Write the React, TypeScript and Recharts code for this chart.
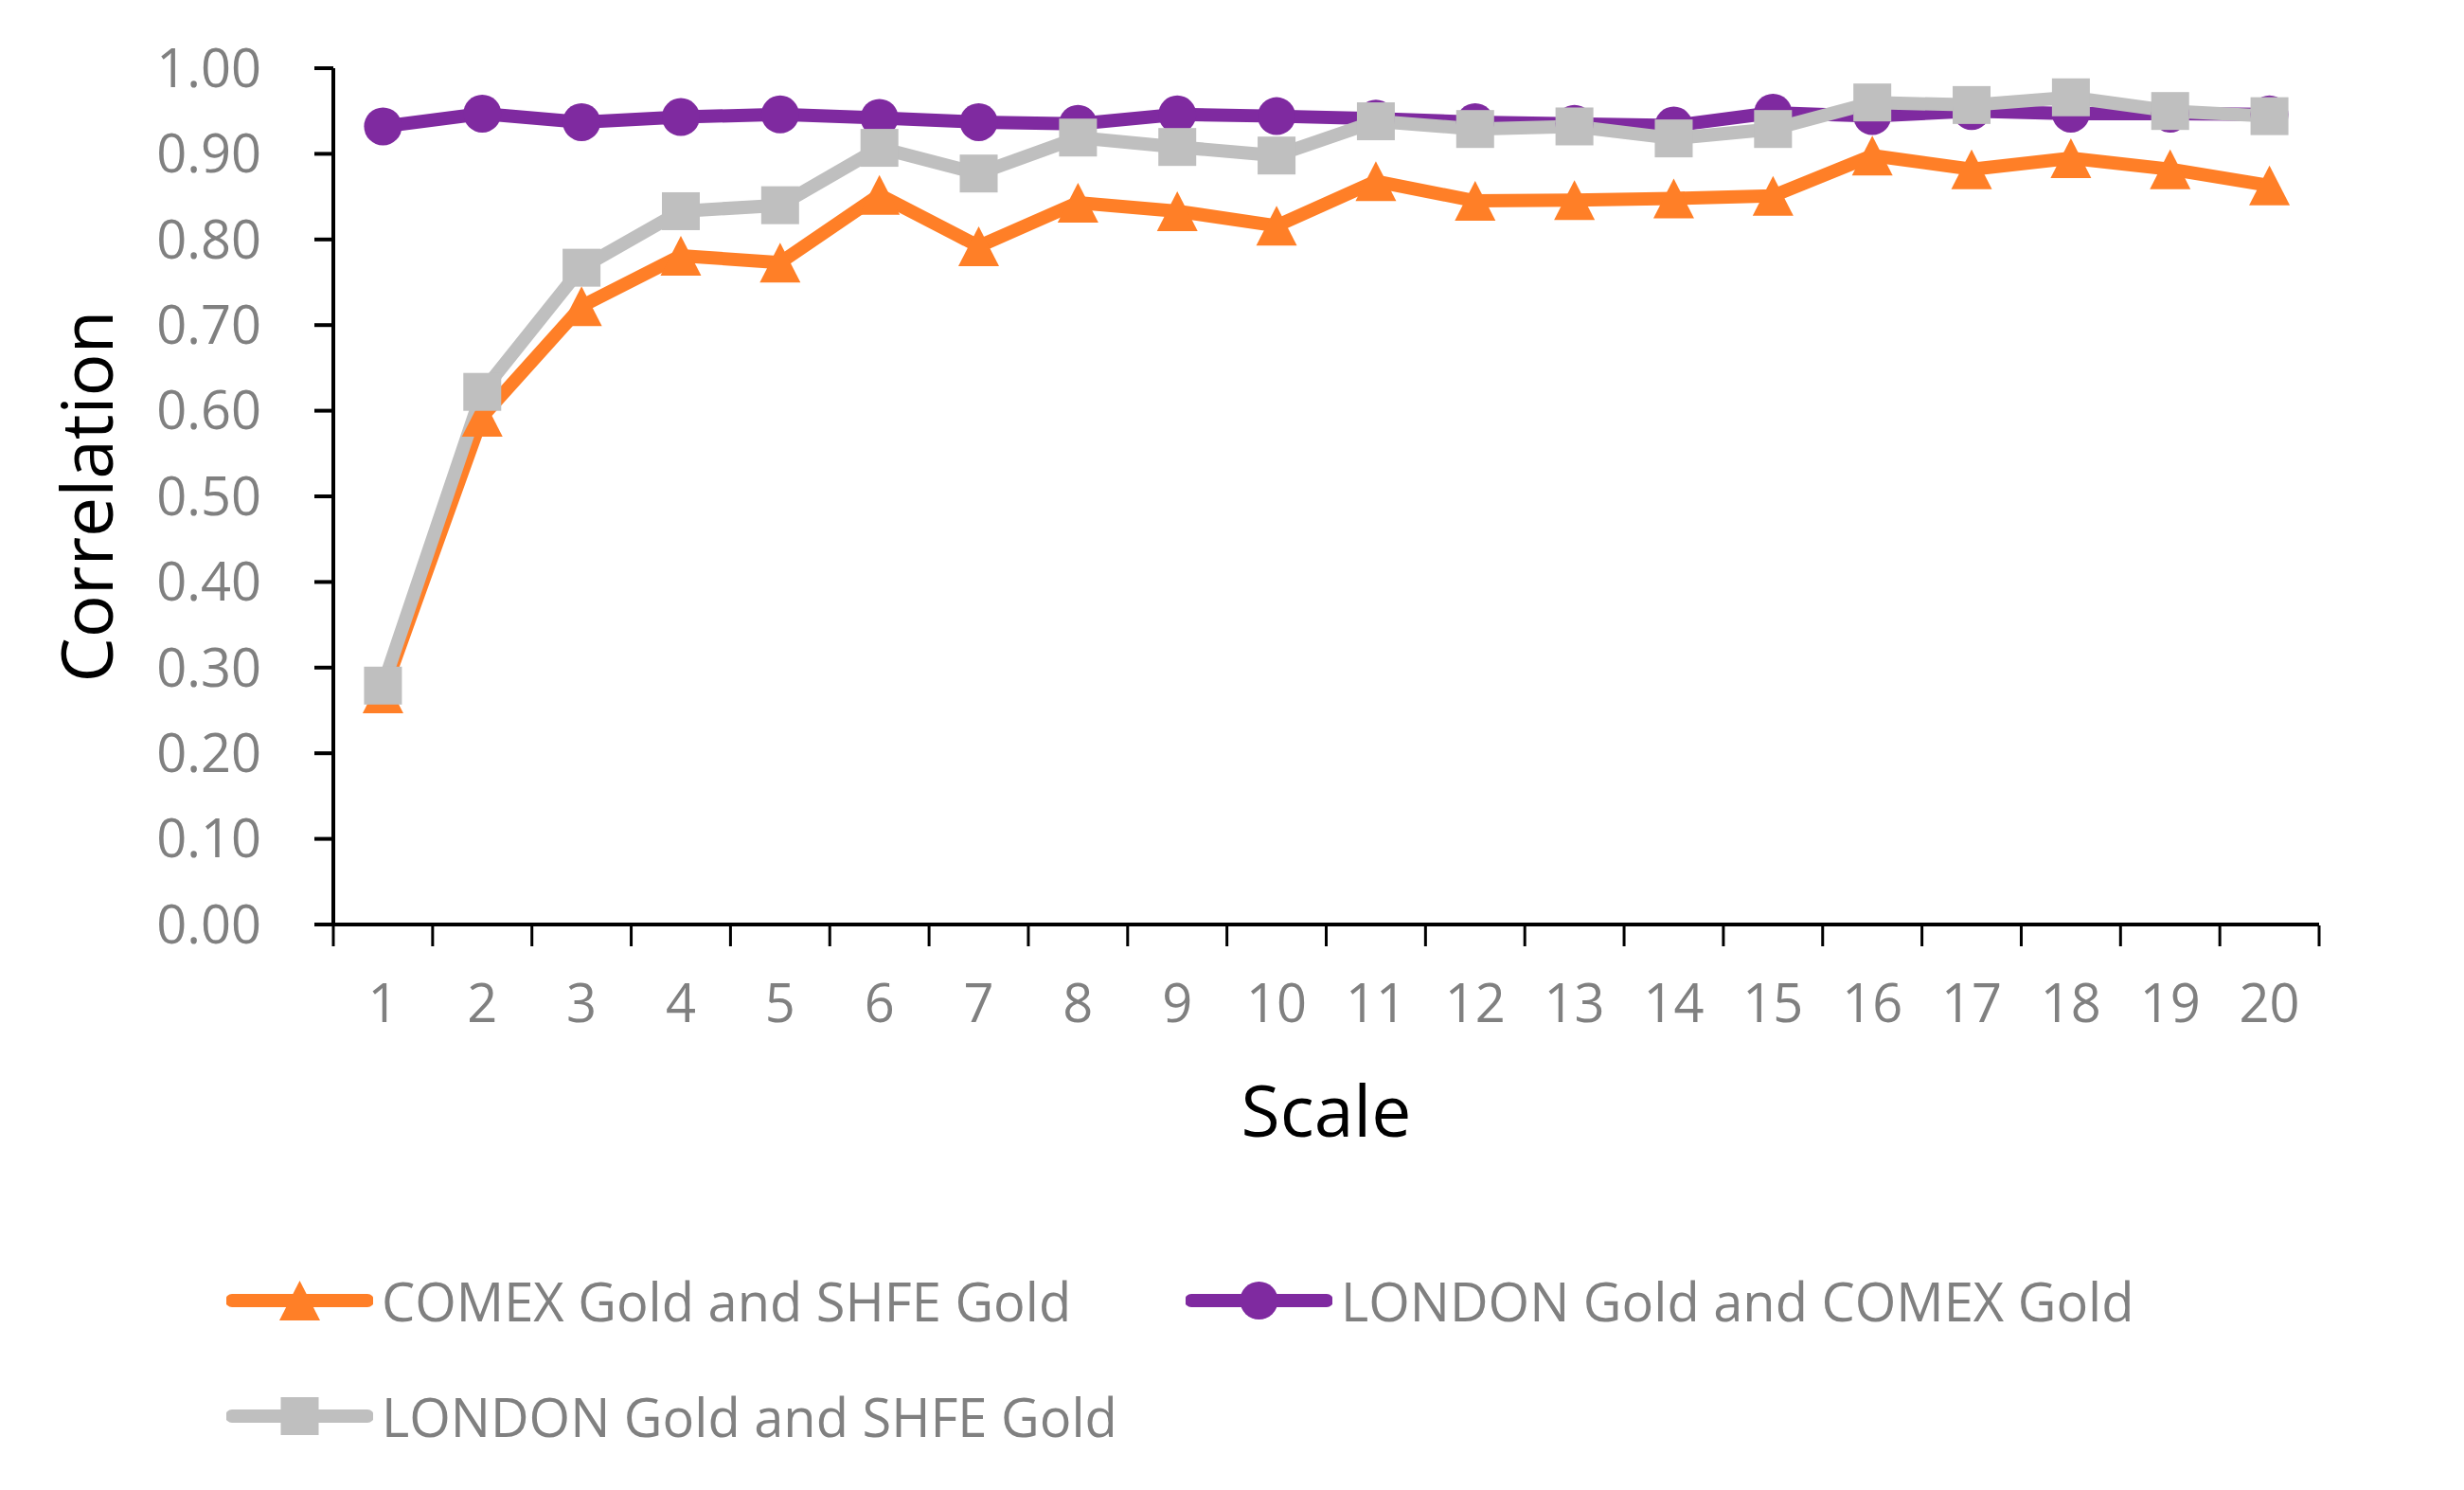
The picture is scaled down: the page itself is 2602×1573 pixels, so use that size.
import React from 'react';
import { LineChart, Line, XAxis, YAxis, Label } from 'recharts';

// scale 1..20 on the x axis
const scales = ['1', '2', '3', '4', '5', '6', '7', '8', '9', '10', '11', '12', '13', '14', '15', '16', '17', '18', '19', '20'];
const yTicks = [0, 0.1, 0.2, 0.3, 0.4, 0.5, 0.6, 0.7, 0.8, 0.9, 1.0];
// boundaries between categories, where Excel puts its tick marks
const edgeTicks = [0.5, 1.5, 2.5, 3.5, 4.5, 5.5, 6.5, 7.5, 8.5, 9.5, 10.5, 11.5, 12.5, 13.5, 14.5, 15.5, 16.5, 17.5, 18.5, 19.5, 20.5];

const comexShfe = [0.27, 0.593, 0.722, 0.781, 0.773, 0.852, 0.792, 0.843, 0.833, 0.816, 0.868, 0.845, 0.846, 0.848, 0.851, 0.898, 0.882, 0.895, 0.882, 0.863];
const londonComex = [0.932, 0.947, 0.937, 0.943, 0.946, 0.942, 0.937, 0.935, 0.946, 0.944, 0.941, 0.937, 0.935, 0.933, 0.948, 0.944, 0.95, 0.947, 0.947, 0.946];
const londonShfe = [0.279, 0.622, 0.767, 0.833, 0.84, 0.907, 0.877, 0.919, 0.908, 0.898, 0.938, 0.929, 0.932, 0.918, 0.929, 0.96, 0.957, 0.966, 0.95, 0.944];

const seriesNames = ['COMEX Gold and SHFE Gold', 'LONDON Gold and COMEX Gold', 'LONDON Gold and SHFE Gold'];

const ORANGE = '#FF7F27';
const PURPLE = '#7F2AA0';
const GRAY = '#BFBFBF';
const TEXT_GRAY = '#808080';
const FONT = "'Open Sans', sans-serif";

const chartData = scales.map((s, i) => ({
  scale: s,
  pos: Number(s),
  comexShfe: comexShfe[i],
  londonComex: londonComex[i],
  londonShfe: londonShfe[i],
}));

function TriangleDot(props: any) {
  const { cx, cy } = props;
  if (cx == null || cy == null) return null;
  return <path d={`M${cx},${cy - 21} L${cx + 21.5},${cy + 21} L${cx - 21.5},${cy + 21} Z`} fill={ORANGE} />;
}

function CircleDot(props: any) {
  const { cx, cy } = props;
  if (cx == null || cy == null) return null;
  return <circle cx={cx} cy={cy} r={20} fill={PURPLE} />;
}

function SquareDot(props: any) {
  const { cx, cy } = props;
  if (cx == null || cy == null) return null;
  return <rect x={cx - 20} y={cy - 20} width={40} height={40} fill={GRAY} />;
}

function EmptyTick() {
  return <g />;
}

function LegendIcon({ kind, color }: { kind: string; color: string }) {
  return (
    <svg width={155} height={46} style={{ flex: 'none' }}>
      <line x1={6} y1={23} x2={149} y2={23} stroke={color} strokeWidth={14} strokeLinecap="round" />
      {kind === 'triangle' && <path d="M77.5,2 L99,44 L56,44 Z" fill={color} />}
      {kind === 'circle' && <circle cx={77.5} cy={23} r={20} fill={color} />}
      {kind === 'square' && <rect x={57.5} y={3} width={40} height={40} fill={color} />}
    </svg>
  );
}

function LegendItem({ left, top, kind, color, name }: any) {
  return (
    <div
      style={{
        position: 'absolute',
        left,
        top: top - 40,
        height: 80,
        display: 'flex',
        alignItems: 'center',
        gap: 9,
      }}
    >
      <LegendIcon kind={kind} color={color} />
      <span style={{ fontFamily: FONT, fontSize: 56, color: TEXT_GRAY, lineHeight: '80px', whiteSpace: 'nowrap' }}>
        {name}
      </span>
    </div>
  );
}

export default function App() {
  return (
    <div style={{ position: 'absolute', left: 0, top: 0, width: 2602, height: 1573, background: '#fff' }}>
      <LineChart
        width={2602}
        height={1573}
        data={chartData}
        margin={{ top: 72, right: 153, left: 0, bottom: 595 }}
      >
        <XAxis
          dataKey="scale"
          scale="band"
          height={1}
          tickLine={false}
          axisLine={{ stroke: '#000', strokeWidth: 4 }}
          tick={{ fill: TEXT_GRAY, fontSize: 56, fontFamily: FONT }}
          tickMargin={57}
          interval={0}
        >
          <Label
            content={(p: any) => {
              const vb = p.viewBox || { x: 352, y: 976, width: 2097, height: 1 };
              return (
                <text
                  x={vb.x + vb.width / 2}
                  y={vb.y + 224}
                  textAnchor="middle"
                  fontFamily={FONT}
                  fontSize={75}
                  fill="#000"
                >
                  Scale
                </text>
              );
            }}
          />
        </XAxis>
        <XAxis
          xAxisId="edges"
          dataKey="pos"
          type="number"
          domain={[0.5, 20.5]}
          ticks={edgeTicks}
          interval={0}
          allowDataOverflow
          height={1}
          tick={EmptyTick}
          axisLine={false}
          tickSize={22}
          tickLine={{ stroke: '#000', strokeWidth: 3 }}
        />
        <YAxis
          width={352}
          domain={[0, 1]}
          ticks={yTicks}
          interval={0}
          tickFormatter={(v: number) => v.toFixed(2)}
          tick={{ fill: TEXT_GRAY, fontSize: 56, fontFamily: FONT }}
          tickSize={20}
          tickMargin={56}
          tickLine={{ stroke: '#000', strokeWidth: 4 }}
          axisLine={{ stroke: '#000', strokeWidth: 4 }}
        >
          <Label
            content={(p: any) => {
              const vb = p.viewBox || { x: 0, y: 72, width: 352, height: 904 };
              const x = vb.x + 119;
              const y = vb.y + vb.height / 2;
              return (
                <text
                  x={x}
                  y={y}
                  transform={`rotate(-90 ${x} ${y})`}
                  textAnchor="middle"
                  fontFamily={FONT}
                  fontSize={75}
                  fill="#000"
                >
                  Correlation
                </text>
              );
            }}
          />
        </YAxis>
        <Line
          dataKey="comexShfe"
          name={seriesNames[0]}
          type="linear"
          stroke={ORANGE}
          strokeWidth={14}
          strokeLinejoin="round"
          dot={(p: any) => <TriangleDot key={`o-${p.index}`} {...p} />}
          activeDot={false}
          isAnimationActive={false}
        />
        <Line
          dataKey="londonComex"
          name={seriesNames[1]}
          type="linear"
          stroke={PURPLE}
          strokeWidth={14}
          strokeLinejoin="round"
          dot={(p: any) => <CircleDot key={`p-${p.index}`} {...p} />}
          activeDot={false}
          isAnimationActive={false}
        />
        <Line
          dataKey="londonShfe"
          name={seriesNames[2]}
          type="linear"
          stroke={GRAY}
          strokeWidth={14}
          strokeLinejoin="round"
          dot={(p: any) => <SquareDot key={`g-${p.index}`} {...p} />}
          activeDot={false}
          isAnimationActive={false}
        />
      </LineChart>
      <LegendItem left={239} top={1373} kind="triangle" color={ORANGE} name={seriesNames[0]} />
      <LegendItem left={1252} top={1373} kind="circle" color={PURPLE} name={seriesNames[1]} />
      <LegendItem left={239} top={1495} kind="square" color={GRAY} name={seriesNames[2]} />
    </div>
  );
}
